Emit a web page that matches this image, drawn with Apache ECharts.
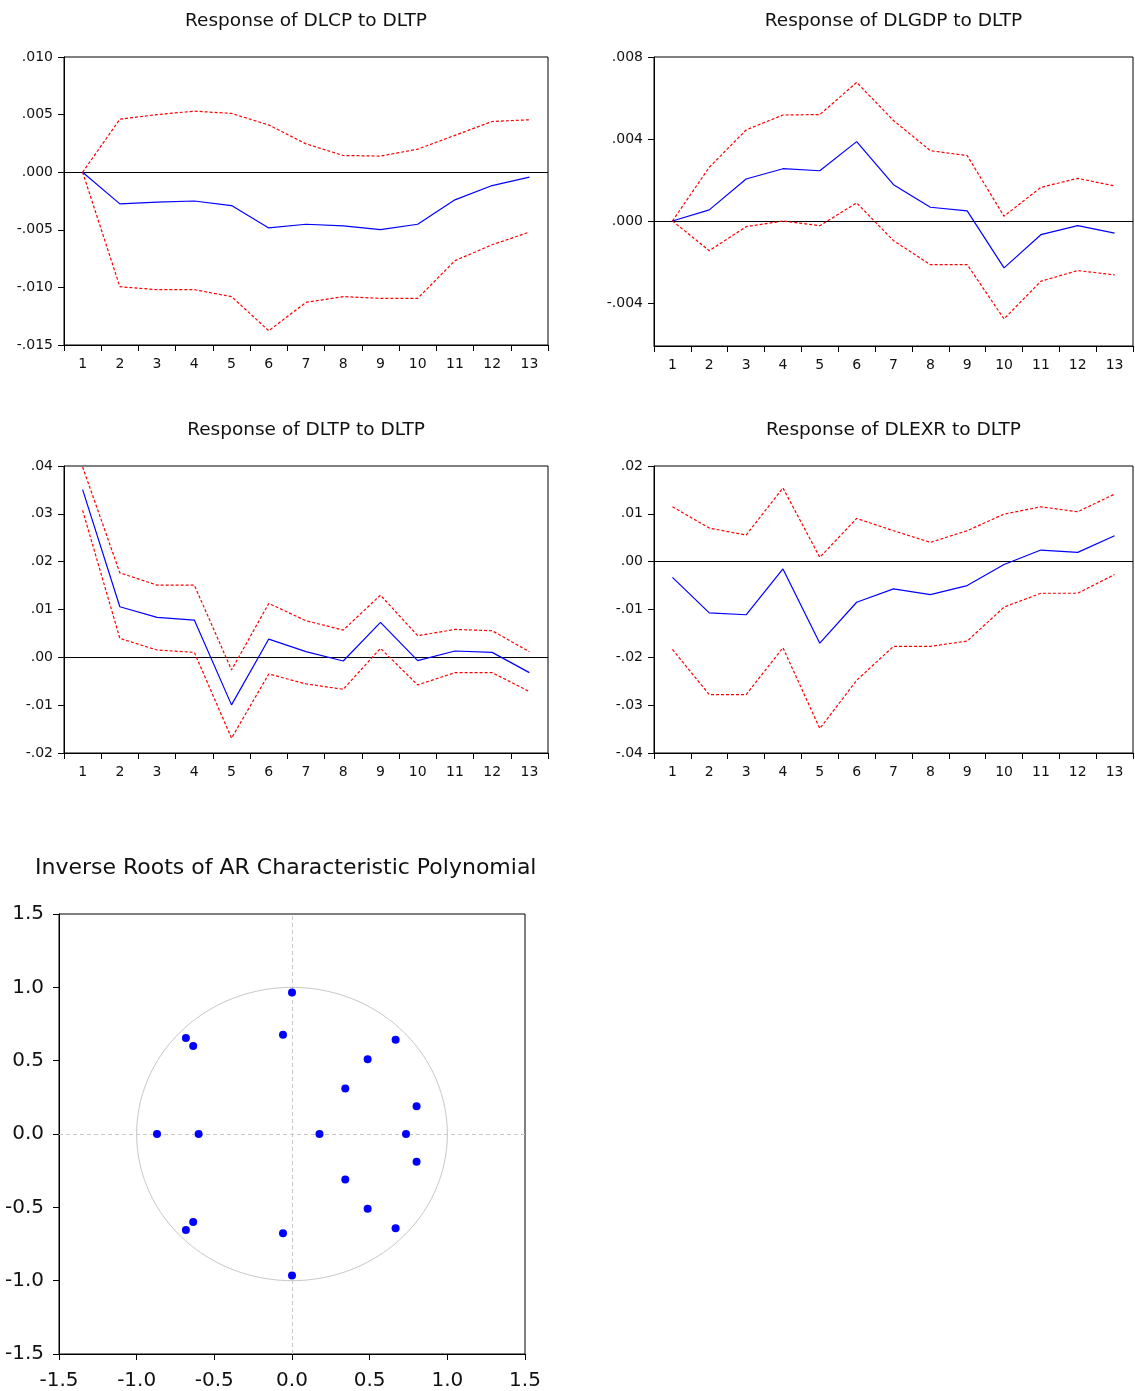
<!DOCTYPE html>
<html>
<head>
<meta charset="utf-8">
<script src="https://cdn.jsdelivr.net/npm/echarts@6/dist/echarts.min.js"></script>
<style>
  html, body { margin: 0; padding: 0; background: #fff; }
  #chart { width: 1135px; height: 1391px; }
</style>
</head>
<body>
<div id="chart"></div>
<script>
// ---------------- DATA ----------------
const periods = ['1','2','3','4','5','6','7','8','9','10','11','12','13'];

const dlcpResp  = [0, -0.00275, -0.0026, -0.0025, -0.0029, -0.00484, -0.00452, -0.00466, -0.00498, -0.00452, -0.0024, -0.00116, -0.00043];
const dlcpUpper = [0, 0.0046, 0.0050, 0.0053, 0.0051, 0.0041, 0.00246, 0.00145, 0.0014, 0.0020, 0.0032, 0.0044, 0.00455];
const dlcpLower = [0, -0.00994, -0.0102, -0.0102, -0.0108, -0.01376, -0.0113, -0.0108, -0.01095, -0.01095, -0.00768, -0.0063, -0.0052];

const dlgdpResp  = [0, 0.00054, 0.00205, 0.00255, 0.00245, 0.00387, 0.00177, 0.00067, 0.00049, -0.00229, -0.00067, -0.00023, -0.00059];
const dlgdpUpper = [0, 0.00262, 0.00444, 0.00517, 0.00519, 0.00676, 0.0049, 0.00343, 0.00319, 0.00023, 0.00164, 0.00208, 0.00171];
const dlgdpLower = [0, -0.00145, -0.00028, 0.0, -0.00023, 0.00088, -0.00096, -0.00213, -0.00213, -0.00478, -0.00294, -0.00242, -0.00263];

const dltpResp  = [0.03505, 0.01057, 0.00834, 0.00779, -0.00994, 0.00382, 0.00118, -0.00076, 0.0073, -0.0007, 0.00132, 0.00104, -0.0032];
const dltpUpper = [0.0398, 0.01766, 0.0151, 0.0151, -0.00264, 0.01127, 0.00765, 0.0057, 0.013, 0.00452, 0.00584, 0.00556, 0.00118];
const dltpLower = [0.03074, 0.00396, 0.00153, 0.00104, -0.0169, -0.00348, -0.00556, -0.00668, 0.00188, -0.00577, -0.0032, -0.0032, -0.00716];

const dlexrResp  = [-0.00327, -0.0107, -0.0111, -0.00153, -0.01704, -0.00848, -0.0057, -0.00688, -0.005, -0.0006, 0.00243, 0.00195, 0.00542];
const dlexrUpper = [0.01147, 0.00702, 0.00556, 0.0154, 0.0009, 0.00904, 0.00647, 0.00403, 0.00647, 0.00994, 0.01147, 0.01043, 0.01412];
const dlexrLower = [-0.01836, -0.0278, -0.0278, -0.018, -0.0349, -0.0248, -0.0177, -0.0177, -0.0166, -0.0095, -0.0066, -0.0066, -0.0027];

// y tick values for the DLGDP panel (axis range is not a multiple of the step)
const dlgdpTicks = [-0.004, 0, 0.004, 0.008];

// Inverse roots (real, imaginary)
const rootsRe = [0.0, -0.058, -0.683, -0.636, 0.667, 0.487, 0.343, 0.802, -0.869, -0.601, 0.177, 0.734, 0.802, 0.343, 0.487, 0.667, -0.636, -0.683, -0.058, 0.0];
const rootsIm = [0.964, 0.677, 0.655, 0.600, 0.643, 0.509, 0.311, 0.189, 0.0, 0.0, 0.0, 0.0, -0.189, -0.311, -0.509, -0.643, -0.600, -0.655, -0.677, -0.964];

// ---------------- CHART ----------------
const FONT = 'DejaVu Sans';
const TXT = '#111111';

function evFmt(dec) {
  return function (v) {
    const s = Math.abs(v).toFixed(dec).replace(/^0/, '');
    return (v < -1e-12 ? '-' : '') + s;
  };
}

const panels = [
  { title: 'Response of DLCP to DLTP',  left: 64,  top: 57,  width: 484, height: 288, resp: dlcpResp,  up: dlcpUpper,  lo: dlcpLower,  min: -0.015, max: 0.010, interval: 0.005, dec: 3 },
  { title: 'Response of DLGDP to DLTP', left: 654, top: 57,  width: 479, height: 289, resp: dlgdpResp, up: dlgdpUpper, lo: dlgdpLower, min: -0.0061, max: 0.008, ticks: dlgdpTicks, dec: 3 },
  { title: 'Response of DLTP to DLTP',  left: 64,  top: 466, width: 484, height: 287, resp: dltpResp,  up: dltpUpper,  lo: dltpLower,  min: -0.02, max: 0.04, interval: 0.01, dec: 2 },
  { title: 'Response of DLEXR to DLTP', left: 654, top: 466, width: 479, height: 287, resp: dlexrResp, up: dlexrUpper, lo: dlexrLower, min: -0.04, max: 0.02, interval: 0.01, dec: 2 }
];

const grids = [], xAxes = [], yAxes = [], series = [], titles = [];

panels.forEach((p, i) => {
  grids.push({ left: p.left, top: p.top, width: p.width, height: p.height, show: true, borderColor: '#000', borderWidth: 1, containLabel: false });
  titles.push({
    text: p.title, left: p.left + p.width / 2, top: p.top - 47, textAlign: 'center', padding: 0,
    textStyle: { fontFamily: FONT, fontSize: 18.5, fontWeight: 'normal', color: TXT, lineHeight: 22 }
  });
  xAxes.push({
    type: 'category', gridIndex: i, data: periods, boundaryGap: true,
    axisLine: { show: true, onZero: false, lineStyle: { color: '#000', width: 1 } },
    axisTick: { show: true, inside: false, length: 6, lineStyle: { color: '#000' } },
    axisLabel: { fontFamily: FONT, fontSize: 14, color: TXT, margin: 12, interval: 0 },
    splitLine: { show: false }
  });
  const ya = {
    type: 'value', gridIndex: i, min: p.min, max: p.max,
    axisLine: { show: true, onZero: false, lineStyle: { color: '#000', width: 1 } },
    axisTick: { show: true, inside: false, length: 6, lineStyle: { color: '#000' } },
    axisLabel: { fontFamily: FONT, fontSize: 14, color: TXT, margin: 11, formatter: evFmt(p.dec) },
    splitLine: { show: false }
  };
  if (p.ticks) {
    ya.axisTick.customValues = p.ticks;
    ya.axisLabel.customValues = p.ticks;
  } else {
    ya.interval = p.interval;
  }
  yAxes.push(ya);

  series.push({
    type: 'line', xAxisIndex: i, yAxisIndex: i, data: p.resp, showSymbol: false, symbol: 'none',
    lineStyle: { color: '#0000ff', width: 1.2 }, z: 3,
    markLine: {
      silent: true, symbol: 'none', label: { show: false }, z: 1,
      lineStyle: { color: '#000', type: 'solid', width: 1.2 },
      data: [{ yAxis: 0 }]
    }
  });
  series.push({
    type: 'line', xAxisIndex: i, yAxisIndex: i, data: p.up, showSymbol: false, symbol: 'none',
    lineStyle: { color: '#ff0000', width: 1.2, type: [3, 2] }, z: 2
  });
  series.push({
    type: 'line', xAxisIndex: i, yAxisIndex: i, data: p.lo, showSymbol: false, symbol: 'none',
    lineStyle: { color: '#ff0000', width: 1.2, type: [3, 2] }, z: 2
  });
});

// ---- roots panel ----
const rg = grids.length;
grids.push({ left: 59, top: 914, width: 466, height: 440, show: true, borderColor: '#000', borderWidth: 1 });
titles.push({
  text: 'Inverse Roots of AR Characteristic Polynomial', left: 35, top: 855, padding: 0,
  textStyle: { fontFamily: FONT, fontSize: 22, fontWeight: 'normal', color: TXT, lineHeight: 26 }
});
const rootAxis = (idx) => ({
  type: 'value', gridIndex: idx, min: -1.5, max: 1.5, interval: 0.5,
  axisLine: { show: true, onZero: false, lineStyle: { color: '#000', width: 1 } },
  axisTick: { show: true, inside: false, length: 6, lineStyle: { color: '#000' } },
  axisLabel: { fontFamily: FONT, fontSize: 20, color: TXT, formatter: v => v.toFixed(1) },
  splitLine: { show: false }
});
const rx = rootAxis(rg); rx.axisLabel.margin = 17;
const ry = rootAxis(rg); ry.axisLabel.margin = 15;
xAxes.push(rx); yAxes.push(ry);

// unit circle reference (geometry, not data)
const circle = [];
for (let k = 0; k <= 360; k += 2) {
  const a = k * Math.PI / 180;
  circle.push([Math.cos(a), Math.sin(a)]);
}
series.push({
  type: 'line', xAxisIndex: rg, yAxisIndex: rg, data: circle, showSymbol: false, symbol: 'none',
  lineStyle: { color: '#c8c8c8', width: 1 }, z: 1, silent: true,
  markLine: {
    silent: true, symbol: 'none', label: { show: false }, z: 1,
    lineStyle: { color: '#c8c8c8', type: [4, 3], width: 1 },
    data: [{ xAxis: 0 }, { yAxis: 0 }]
  }
});
series.push({
  type: 'scatter', xAxisIndex: rg, yAxisIndex: rg,
  data: rootsRe.map((r, i) => [r, rootsIm[i]]),
  symbol: 'circle', symbolSize: 8, itemStyle: { color: '#0000ff', opacity: 1 }, z: 6
});

const chart = echarts.init(document.getElementById('chart'), null, { renderer: 'canvas' });
chart.setOption({
  animation: false,
  backgroundColor: '#fff',
  title: titles,
  grid: grids,
  xAxis: xAxes,
  yAxis: yAxes,
  series: series
});
</script>
</body>
</html>
